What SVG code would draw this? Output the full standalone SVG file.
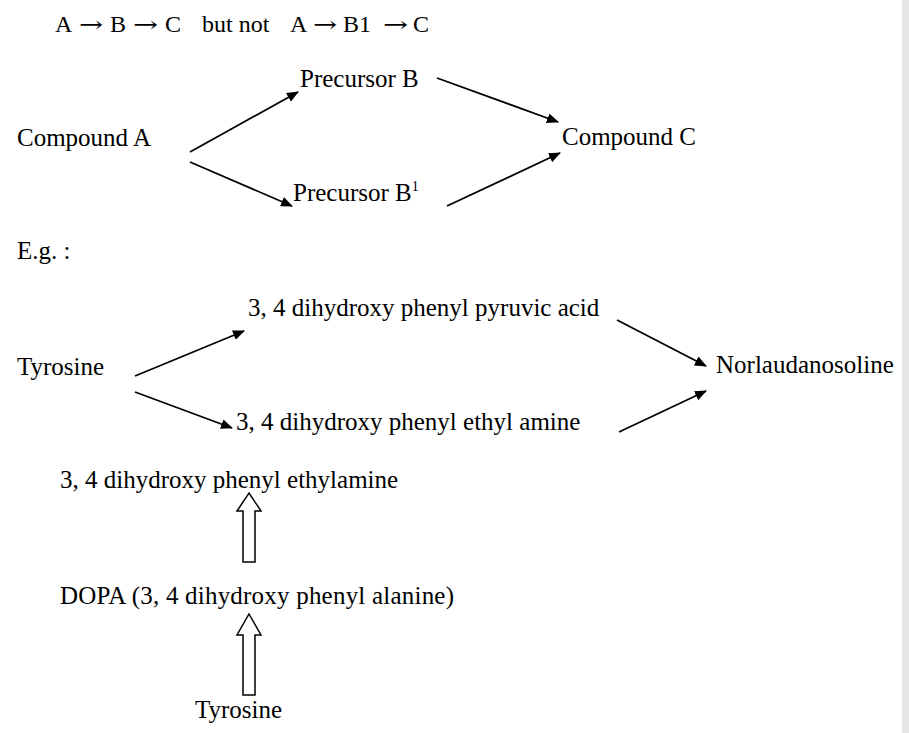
<svg xmlns="http://www.w3.org/2000/svg" width="909" height="733" viewBox="0 0 909 733">
<defs>
<style>
text{font-family:"Liberation Serif","Times New Roman",serif;font-size:25px;fill:#000}
#title text{font-size:24px}
#title .ar{font-family:"DejaVu Serif",serif;font-size:22px}
.c line{stroke:#000;stroke-width:1.8}
.h{fill:#fff;stroke:#000;stroke-width:1.5}
</style>
<marker id="ah" markerWidth="12" markerHeight="10" refX="11" refY="5" orient="auto" markerUnits="userSpaceOnUse">
<path d="M0,0 L12,5 L0,10 z" fill="#000"/>
</marker>
</defs>
<rect width="909" height="733" fill="#fff"/>
<rect x="902" y="0" width="7" height="733" fill="#e6e6e6"/>
<g id="title">
<text x="55" y="32">A</text>
<text class="ar" x="79" y="32" textLength="24" lengthAdjust="spacingAndGlyphs">→</text>
<text x="110" y="32">B</text>
<text class="ar" x="133" y="32" textLength="25" lengthAdjust="spacingAndGlyphs">→</text>
<text x="165" y="32">C</text>
<text x="202" y="32">but not</text>
<text x="290" y="32">A</text>
<text class="ar" x="313" y="32" textLength="24" lengthAdjust="spacingAndGlyphs">→</text>
<text x="343" y="32" font-size="25">B1</text>
<text class="ar" x="383" y="32" textLength="25" lengthAdjust="spacingAndGlyphs">→</text>
<text x="413" y="32">C</text>
</g>
<g id="compoundA"><text x="17" y="146">Compound A</text></g>
<g id="precursorB"><text x="300" y="87">Precursor B</text></g>
<g id="compoundC"><text x="562" y="145">Compound C</text></g>
<g id="precursorB1"><text x="293" y="201">Precursor B<tspan font-size="14" dy="-10">1</tspan></text></g>
<g id="eg"><text x="17" y="259">E.g. :</text></g>
<g id="pyruvic"><text x="248" y="316">3, 4 dihydroxy phenyl pyruvic acid</text></g>
<g id="tyrosine1"><text x="17" y="375">Tyrosine</text></g>
<g id="norlaudanosoline"><text x="716" y="373">Norlaudanosoline</text></g>
<g id="ethylamine1"><text x="236" y="430">3, 4 dihydroxy phenyl ethyl amine</text></g>
<g id="ethylamine2"><text x="60" y="488">3, 4 dihydroxy phenyl ethylamine</text></g>
<g id="dopa"><text x="60" y="604" textLength="394" lengthAdjust="spacing">DOPA (3, 4 dihydroxy phenyl alanine)</text></g>
<g id="tyrosine2"><text x="195" y="718">Tyrosine</text></g>
<g id="connectors" class="c">
<line x1="190" y1="152" x2="298" y2="92" marker-end="url(#ah)"/>
<line x1="190" y1="162" x2="292" y2="206" marker-end="url(#ah)"/>
<line x1="437" y1="78" x2="558" y2="122" marker-end="url(#ah)"/>
<line x1="447" y1="206" x2="560" y2="153" marker-end="url(#ah)"/>
<line x1="135" y1="376" x2="244" y2="331" marker-end="url(#ah)"/>
<line x1="135" y1="392" x2="232" y2="428" marker-end="url(#ah)"/>
<line x1="617" y1="320" x2="706" y2="366" marker-end="url(#ah)"/>
<line x1="619" y1="432" x2="706" y2="391" marker-end="url(#ah)"/>
<path class="h" d="M249,493 L261,511 L255,511 L255,562 L243,562 L243,511 L237,511 Z"/>
<path class="h" d="M249,614 L261,635 L255,635 L255,695 L243,695 L243,635 L237,635 Z"/>
</g>
</svg>
